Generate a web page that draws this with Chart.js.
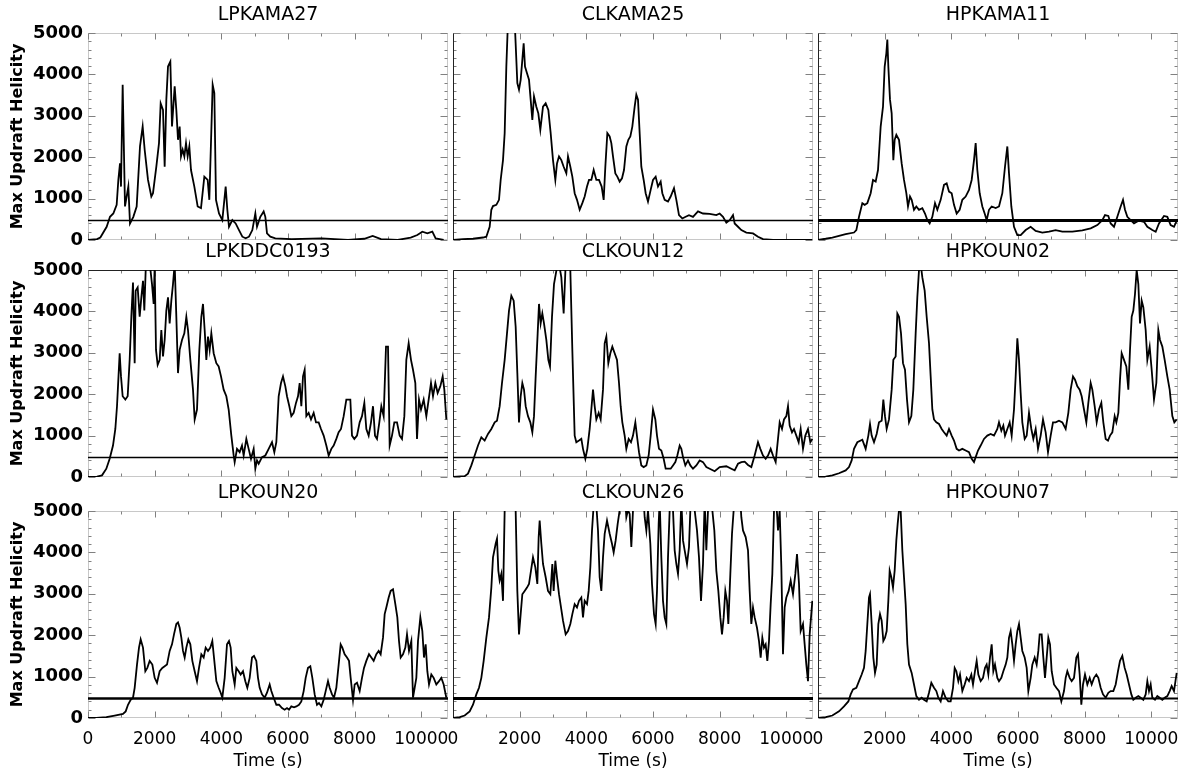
<!DOCTYPE html>
<html>
<head>
<meta charset="utf-8">
<script src="https://cdn.jsdelivr.net/npm/chart.js@4.4.1/dist/chart.umd.min.js"></script>
<style>
  html, body { margin: 0; padding: 0; background: #fff; overflow: hidden; }
  #planche { position: relative; width: 1181px; height: 774px; overflow: hidden; }
  #planche canvas { position: absolute; }
</style>
</head>
<body>
<div id="planche"></div>
<script>
// ==========================================
// DONNÉES (temps en s, hélicité max de l'ascendance)
// ==========================================
const titres = ["LPKAMA27", "CLKAMA25", "HPKAMA11", "LPKDDC0193", "CLKOUN12", "HPKOUN02", "LPKOUN20", "CLKOUN26", "HPKOUN07"];
const seuils = [470, 470, 470, 470, 470, 470, 470, 470, 470];
const ticksX = [0, 2000, 4000, 6000, 8000, 10000];
const ticksY = [0, 1000, 2000, 3000, 4000, 5000];

const lpkama27 = [[0,0],[270,20],[370,60],[560,320],[660,560],[760,640],[860,850],[910,1450],[960,1850],[990,1290],[1040,3750],[1110,810],[1210,1290],[1260,400],[1360,560],[1460,810],[1560,2260],[1640,2740],[1700,2180],[1800,1450],[1900,1050],[1950,1130],[2050,1770],[2130,2340],[2180,3300],[2250,3140],[2300,1770],[2350,3390],[2400,4190],[2470,4310],[2520,2740],[2600,3710],[2650,3140],[2700,2420],[2750,2740],[2790,2020],[2840,2180],[2890,2020],[2940,2340],[2990,2020],[3040,2260],[3090,1690],[3190,1290],[3290,810],[3390,770],[3490,1530],[3590,1450],[3640,970],[3740,3750],[3790,3550],[3840,970],[3930,640],[4030,480],[4130,1290],[4180,730],[4230,320],[4330,480],[4430,400],[4530,240],[4630,80],[4730,40],[4830,80],[4930,240],[5020,640],[5070,320],[5170,560],[5270,690],[5320,560],[5370,160],[5470,80],[5620,40],[6110,20],[7010,40],[7800,0],[8290,30],[8540,100],[8790,20],[9290,0],[9680,60],[9880,120],[10030,200],[10180,160],[10330,200],[10430,40],[10670,0]];

const clkama25 = [[0,0],[300,20],[600,30],[900,60],[1000,80],[1100,320],[1150,730],[1200,820],[1300,850],[1380,970],[1430,1450],[1500,1930],[1550,2580],[1600,4190],[1650,5300],[1850,5300],[1930,3790],[1980,3630],[2030,3870],[2080,4350],[2120,4750],[2160,4190],[2220,4030],[2280,3870],[2330,3390],[2380,2900],[2430,3470],[2500,3220],[2560,3060],[2620,2660],[2700,3220],[2780,3300],[2860,3140],[2930,2580],[3000,1930],[3070,1450],[3120,1850],[3180,2020],[3250,1930],[3320,1770],[3400,1610],[3450,2020],[3520,1770],[3580,1530],[3650,1130],[3720,970],[3800,730],[3880,890],[3950,1050],[4020,1290],[4080,1450],[4150,1450],[4220,1690],[4300,1450],[4380,1450],[4460,1290],[4520,970],[4570,1770],[4630,2580],[4700,2500],[4750,2340],[4800,2020],[4870,1610],[4930,1530],[5000,1410],[5070,1490],[5130,1690],[5200,2260],[5260,2420],[5320,2500],[5380,2740],[5450,3220],[5500,3510],[5550,3390],[5600,2580],[5650,1770],[5720,1450],[5780,1130],[5850,930],[5930,1210],[6000,1450],[6080,1530],[6150,1290],[6230,1410],[6280,1130],[6350,970],[6450,930],[6530,1050],[6630,1250],[6700,970],[6780,600],[6880,520],[6980,560],[7080,600],[7200,560],[7350,690],[7500,640],[7700,630],[7900,600],[8000,640],[8100,560],[8200,420],[8300,480],[8400,600],[8450,400],[8550,320],[8650,240],[8800,180],[9000,160],[9150,80],[9300,20],[9600,0],[10780,0]];

const hpkama11 = [[0,0],[230,30],[430,60],[630,100],[830,140],[1080,180],[1150,240],[1230,560],[1330,890],[1400,850],[1480,890],[1580,1130],[1650,1450],[1730,1410],[1800,1690],[1880,2740],[1950,3220],[2000,4190],[2050,4510],[2080,4840],[2110,4190],[2160,3390],[2210,3060],[2260,1930],[2300,2420],[2350,2540],[2430,2420],[2510,1850],[2580,1450],[2650,1130],[2700,810],[2760,1050],[2810,970],[2880,730],[2950,810],[3030,730],[3130,770],[3210,640],[3280,480],[3350,400],[3430,560],[3510,890],[3580,730],[3680,970],[3780,1330],[3860,1370],[3930,1170],[4010,1130],[4080,850],[4160,640],[4250,730],[4330,970],[4430,1050],[4530,1210],[4610,1450],[4680,1930],[4730,2340],[4780,1690],[4850,1130],[4930,810],[5000,640],[5060,480],[5130,730],[5210,810],[5330,770],[5430,810],[5530,1130],[5610,1770],[5680,2260],[5730,1610],[5800,810],[5880,320],[5980,120],[6080,120],[6230,240],[6380,320],[6530,220],[6730,180],[6930,200],[7130,240],[7330,200],[7630,200],[7930,230],[8180,280],[8380,360],[8530,480],[8610,600],[8710,580],[8780,400],[8880,320],[8980,560],[9080,810],[9150,970],[9210,730],[9280,560],[9380,480],[9480,400],[9630,470],[9780,440],[9880,320],[10030,240],[10130,200],[10230,400],[10380,580],[10480,560],[10580,360],[10680,320],[10770,480]];

const lpkddc0193 = [[0,0],[270,10],[420,40],[550,200],[650,440],[750,760],[820,1160],[870,1710],[920,2510],[950,2990],[990,2430],[1040,1950],[1120,1870],[1190,1950],[1250,2830],[1300,3870],[1350,4700],[1400,2750],[1430,4500],[1490,4580],[1550,3870],[1600,4340],[1650,4740],[1690,4020],[1730,4980],[1770,5300],[1820,5400],[1920,4660],[1970,4180],[2000,5100],[2040,3070],[2090,2710],[2150,2830],[2200,3550],[2250,2910],[2300,3310],[2350,4020],[2400,4340],[2450,3710],[2500,4260],[2550,4660],[2600,5150],[2650,3870],[2700,2510],[2750,3070],[2820,3310],[2890,3470],[2950,3870],[3000,3550],[3070,2830],[3150,2110],[3200,1390],[3270,1630],[3340,3070],[3400,3870],[3450,4180],[3500,3550],[3550,2830],[3600,3390],[3650,3070],[3700,3470],[3770,2990],[3850,2750],[3920,2670],[3990,2430],[4070,2110],[4150,1950],[4220,1630],[4300,1000],[4370,520],[4400,360],[4470,680],[4550,600],[4620,760],[4670,520],[4750,920],[4820,680],[4890,440],[4970,680],[5020,200],[5070,400],[5120,320],[5220,480],[5320,520],[5420,680],[5520,840],[5590,600],[5650,840],[5720,1950],[5790,2270],[5850,2430],[5920,2190],[5970,1950],[6040,1710],[6100,1470],[6170,1550],[6240,1790],[6300,1950],[6350,2270],[6400,1710],[6450,2430],[6500,2590],[6550,1470],[6620,1550],[6690,1390],[6770,1550],[6840,1320],[6920,1320],[6990,1160],[7070,1000],[7150,760],[7220,520],[7300,680],[7370,760],[7450,920],[7520,1080],[7590,1160],[7670,1470],[7750,1870],[7820,1870],[7870,1870],[7920,1000],[7990,920],[8070,1000],[8150,1320],[8220,1470],[8290,1790],[8350,1160],[8420,1000],[8490,1320],[8550,1710],[8610,1000],[8670,920],[8740,1320],[8800,1710],[8870,1470],[8940,3150],[9000,3150],[9050,760],[9120,1000],[9190,1320],[9270,1320],[9350,1000],[9420,920],[9490,1470],[9550,2830],[9620,3230],[9690,2830],[9750,2590],[9820,2270],[9870,920],[9930,1870],[9990,1630],[10070,1870],[10150,1470],[10220,1870],[10290,2270],[10350,1950],[10420,2270],[10490,2030],[10570,2190],[10640,2430],[10690,2110],[10750,1390]];

const clkoun12 = [[0,0],[350,20],[450,80],[550,280],[650,520],[750,760],[850,960],[950,880],[1050,1040],[1150,1160],[1250,1320],[1320,1360],[1400,1710],[1470,2270],[1550,2830],[1620,3470],[1680,4020],[1750,4380],[1820,4260],[1880,3630],[1930,2510],[1980,1320],[2030,1950],[2080,2270],[2130,2110],[2180,1710],[2250,1470],[2320,1320],[2380,1080],[2430,1470],[2480,2430],[2540,3470],[2580,4180],[2630,3710],[2680,3950],[2730,3710],[2800,3310],[2860,2830],[2910,2670],[2970,3870],[3030,4660],[3100,4980],[3150,5300],[3250,4820],[3320,3950],[3380,5150],[3450,5200],[3520,5000],[3580,3070],[3650,1000],[3700,840],[3780,880],[3850,920],[3900,680],[3970,440],[4030,680],[4100,1160],[4150,1630],[4200,2110],[4250,1710],[4300,1390],[4370,1550],[4430,1390],[4500,2110],[4550,3230],[4600,3390],[4660,2750],[4720,2990],[4780,3150],[4850,2990],[4920,2830],[4980,2270],[5030,1710],[5080,1320],[5150,1000],[5200,680],[5270,920],[5340,840],[5400,1000],[5470,1320],[5530,920],[5580,600],[5650,280],[5720,240],[5800,280],[5870,520],[5930,1000],[6000,1630],[6070,1390],[6120,1000],[6180,680],[6250,640],[6320,440],[6380,200],[6450,200],[6530,200],[6600,280],[6670,360],[6730,520],[6800,760],[6850,680],[6900,480],[6970,280],[7050,400],[7120,280],[7200,200],[7300,280],[7400,400],[7500,360],[7600,240],[7700,200],[7850,140],[8000,240],[8200,260],[8350,200],[8450,160],[8550,320],[8650,360],[8750,370],[8850,290],[8950,240],[9050,520],[9150,840],[9220,680],[9300,520],[9380,440],[9450,520],[9530,680],[9600,520],[9680,360],[9750,920],[9800,1320],[9870,1160],[9930,1390],[10000,1470],[10050,1710],[10100,1240],[10170,1080],[10230,1160],[10300,1000],[10370,840],[10430,1160],[10500,680],[10570,1000],[10650,1160],[10720,840],[10780,920]];

const hpkoun02 = [[0,0],[230,10],[430,40],[630,90],[830,160],[930,240],[1010,400],[1080,680],[1180,840],[1330,900],[1430,680],[1510,1000],[1560,1280],[1610,1000],[1680,840],[1760,1040],[1830,1320],[1910,1360],[1960,1870],[2010,1470],[2060,1160],[2130,1390],[2210,2110],[2260,2830],[2330,2910],[2380,3950],[2430,3870],[2490,3470],[2550,2750],[2610,2590],[2670,1870],[2730,1320],[2800,1470],[2860,2110],[2930,3470],[2980,4340],[3030,5000],[3080,5150],[3130,4820],[3200,4500],[3260,3870],[3330,3230],[3380,2430],[3430,1630],[3480,1390],[3550,1320],[3630,1280],[3710,1160],[3780,1080],[3860,1000],[3930,1160],[4010,1000],[4080,880],[4160,680],[4230,640],[4330,680],[4430,640],[4530,600],[4610,440],[4680,360],[4730,480],[4800,640],[4880,760],[4980,920],[5080,1000],[5180,1040],[5280,1000],[5380,1160],[5430,1320],[5500,1120],[5560,1240],[5610,1000],[5680,1160],[5750,1320],[5810,1000],[5880,1630],[5930,2430],[5980,3350],[6030,2830],[6080,2030],[6130,1320],[6200,920],[6260,1000],[6330,1550],[6400,1160],[6460,920],[6530,1160],[6600,680],[6680,1000],[6750,1390],[6830,1080],[6900,600],[6980,1000],[7050,1320],[7130,1320],[7230,1360],[7330,1320],[7430,1160],[7510,1550],[7580,2110],[7650,2430],[7710,2350],[7780,2190],[7850,2110],[7910,1950],[7980,1630],[8050,1320],[8110,1790],[8180,2270],[8230,2110],[8300,1710],[8360,1320],[8430,1630],[8500,1790],[8560,1320],[8630,920],[8700,880],[8760,1000],[8830,1080],[8900,1470],[8950,1320],[9010,1550],[9060,2350],[9110,2990],[9180,2830],[9250,2670],[9310,2110],[9360,3070],[9410,3870],[9460,4020],[9510,4420],[9560,5000],[9610,4660],[9660,3710],[9710,4260],[9760,4100],[9830,3550],[9880,2830],[9950,3150],[10010,2590],[10080,1870],[10150,2270],[10210,3550],[10260,3310],[10330,3150],[10400,2830],[10480,2430],[10550,2110],[10630,1470],[10690,1320],[10760,1390]];

const lpkoun20 = [[0,0],[250,0],[550,20],[800,60],[1050,100],[1130,160],[1200,320],[1280,440],[1350,490],[1400,730],[1470,1290],[1530,1700],[1580,1900],[1650,1700],[1720,1130],[1780,1210],[1850,1380],[1930,1290],[2000,970],[2070,850],[2150,1130],[2230,1210],[2300,1250],[2370,1290],[2450,1620],[2520,1780],[2580,2020],[2650,2270],[2700,2310],[2750,2180],[2800,1940],[2850,1620],[2900,1460],[2950,1700],[3010,1900],[3070,1780],[3130,1380],[3200,1130],[3270,890],[3330,1210],[3400,1540],[3470,1460],[3530,1700],[3600,1620],[3670,1700],[3730,1860],[3780,1460],[3850,890],[3920,730],[3980,610],[4030,490],[4100,970],[4170,1780],[4230,1860],[4280,1700],[4330,1130],[4400,810],[4450,1210],[4520,1130],[4580,1050],[4650,1130],[4720,890],[4780,730],[4850,970],[4920,1460],[4980,1500],[5050,1380],[5100,970],[5150,730],[5220,570],[5300,490],[5370,610],[5450,810],[5500,650],[5570,490],[5650,320],[5730,320],[5820,240],[5900,200],[5970,240],[6030,200],[6100,280],[6180,260],[6250,280],[6330,320],[6400,400],[6470,650],[6530,970],[6600,1210],[6670,1250],[6730,970],[6800,570],[6870,320],[6930,360],[7000,280],[7070,440],[7130,650],[7200,890],[7250,730],[7320,570],[7380,490],[7450,730],[7520,1290],[7580,1780],[7630,1700],[7700,1540],[7770,1460],[7830,1380],[7880,970],[7950,440],[8000,810],[8070,850],[8150,650],[8220,970],[8280,1210],[8350,1380],[8430,1540],[8500,1460],[8570,1380],[8650,1540],[8720,1620],[8780,1540],[8850,1940],[8900,2510],[8950,2670],[9020,2910],[9080,3070],[9150,3110],[9220,2750],[9280,2430],[9330,1860],[9380,1460],[9450,1540],[9520,1700],[9570,2020],[9630,1620],[9700,1860],[9750,490],[9800,730],[9850,970],[9900,1860],[9970,2430],[10030,2100],[10080,1460],[10130,1780],[10180,1130],[10230,810],[10300,1050],[10370,970],[10450,810],[10530,890],[10600,970],[10670,810],[10750,490]];

const clkoun26 = [[0,0],[200,20],[350,60],[500,160],[600,320],[700,570],[780,730],[850,970],[920,1380],[1000,1940],[1080,2430],[1150,3150],[1200,3880],[1280,4210],[1320,4330],[1360,3560],[1400,3320],[1450,3480],[1500,2830],[1550,5020],[1580,5500],[1850,5500],[1880,5000],[1930,3070],[1980,2020],[2030,2510],[2080,2990],[2150,3070],[2220,3150],[2280,3240],[2340,3560],[2400,3880],[2470,3640],[2530,3240],[2570,4370],[2600,4770],[2650,4210],[2700,3720],[2780,3400],[2850,3070],[2920,2990],[2980,3720],[3020,3070],[3070,3800],[3120,3400],[3180,2990],[3240,2670],[3300,2350],[3380,2020],[3450,2100],[3520,2270],[3580,2510],[3650,2750],[3720,2670],[3780,2830],[3850,2910],[3900,2430],[3950,2830],[4020,2750],[4070,3070],[4120,3640],[4170,4530],[4210,5020],[4270,5500],[4350,4530],[4400,3400],[4450,3070],[4500,3880],[4550,4450],[4620,4770],[4700,4450],[4770,4210],[4820,4000],[4880,4290],[4940,4690],[5000,5020],[5050,5500],[5150,5500],[5200,4850],[5250,5020],[5300,4930],[5350,4130],[5400,5020],[5500,5500],[5700,5500],[5750,4850],[5800,4530],[5850,5020],[5920,4210],[5970,3240],[6030,2510],[6080,2270],[6120,3070],[6170,4690],[6200,5260],[6250,3880],[6300,2830],[6350,2430],[6400,2270],[6450,3880],[6500,5020],[6550,5500],[6600,5020],[6650,4050],[6700,3720],[6750,3480],[6800,4050],[6850,5260],[6900,4290],[6950,4050],[7020,3720],[7080,4130],[7120,5020],[7180,5500],[7250,5020],[7320,4530],[7380,3880],[7440,2830],[7500,3720],[7550,5260],[7600,4050],[7650,5020],[7700,5500],[7780,5020],[7840,4530],[7900,3560],[7960,3070],[8020,2430],[8070,2020],[8120,2430],[8170,3070],[8220,2830],[8260,2270],[8320,3480],[8370,4450],[8420,5020],[8470,5500],[8600,5500],[8650,4850],[8700,4530],[8780,4370],[8850,4050],[8900,3070],[8950,2270],[9000,2670],[9050,2430],[9120,2180],[9180,1860],[9230,1460],[9280,1940],[9330,1700],[9380,1780],[9430,1380],[9480,1860],[9530,2750],[9580,3480],[9630,5020],[9680,5500],[9750,4530],[9800,5020],[9850,3640],[9900,1540],[9950,2670],[10000,2910],[10070,3070],[10130,3320],[10200,2990],[10270,3480],[10320,3960],[10380,3240],[10430,2100],[10500,2270],[10550,1780],[10600,1290],[10650,890],[10700,2020],[10780,2830]];

const hpkoun07 = [[0,0],[230,20],[430,60],[630,160],[780,280],[910,400],[980,570],[1050,690],[1150,730],[1230,890],[1310,1050],[1380,1210],[1430,1620],[1480,2270],[1530,2910],[1560,2990],[1610,2270],[1660,1460],[1710,1090],[1760,1290],[1810,2270],[1860,2510],[1910,2350],[1960,1860],[2010,1940],[2060,2100],[2110,2830],[2150,3560],[2200,3400],[2250,3150],[2300,3560],[2350,4290],[2390,4690],[2430,5020],[2480,5020],[2530,4050],[2580,3400],[2630,2750],[2680,1780],[2730,1290],[2810,1090],[2880,810],[2950,530],[3030,440],[3110,490],[3180,440],[3260,400],[3330,610],[3400,850],[3480,730],[3550,650],[3610,490],[3680,400],[3750,650],[3830,490],[3910,400],[3980,400],[4050,730],[4100,1210],[4150,1130],[4210,890],[4260,1050],[4330,650],[4400,810],[4460,970],[4530,890],[4600,1050],[4650,810],[4710,1130],[4760,1380],[4810,1050],[4880,890],[4950,970],[5010,1210],[5060,1290],[5110,1050],[5160,1460],[5210,1780],[5260,1130],[5310,1290],[5380,970],[5430,890],[5500,970],[5560,1130],[5630,1290],[5680,1460],[5730,1940],[5780,2100],[5830,1780],[5880,1380],[5930,1780],[5980,2100],[6030,2270],[6080,1940],[6130,1620],[6200,1460],[6260,1210],[6310,650],[6380,970],[6430,1290],[6500,1460],[6560,1290],[6610,1620],[6650,2020],[6710,2020],[6760,1460],[6810,970],[6860,1460],[6910,1940],[6960,1780],[7010,1130],[7080,810],[7150,730],[7230,650],[7300,400],[7380,650],[7430,970],[7480,1130],[7550,970],[7610,890],[7680,970],[7750,1460],[7800,1540],[7850,1050],[7900,320],[7950,810],[8010,1050],[8080,810],[8150,970],[8210,810],[8280,970],[8350,1050],[8410,970],[8480,730],[8550,570],[8630,490],[8710,610],[8780,650],[8860,650],[8930,810],[9000,1130],[9060,1380],[9130,1500],[9200,1210],[9260,1050],[9330,810],[9400,570],[9460,440],[9530,490],[9610,530],[9680,490],[9760,440],[9830,570],[9880,890],[9930,650],[9980,810],[10030,490],[10110,440],[10180,530],[10250,490],[10330,440],[10400,490],[10480,530],[10550,650],[10610,770],[10680,650],[10760,1090]];

const series = [lpkama27, clkama25, hpkama11, lpkddc0193, clkoun12, hpkoun02, lpkoun20, clkoun26, hpkoun07];
const epaisseurSeuil = [1.5, 1.5, 3, 1.5, 1.5, 1.5, 2.5, 3, 2];

// ==========================================
// MISE EN PAGE
// ==========================================
const T_MAX = 10800;
const colonnesX = [88, 453, 818];   // bord gauche de chaque zone de tracé
const lignesY = [33, 270, 511];     // bord haut
const LARGEUR = 360, HAUTEUR = 207;
const MARGE_G = 24, MARGE_D = 40, MARGE_B = 16;  // marges larges : les étiquettes ne poussent pas la zone de tracé
const POLICE = "'DejaVu Sans', 'Liberation Sans', sans-serif";

// cadre gris + petites graduations vers l'intérieur, façon IDL
const cadre = {
    id: "cadre",
    beforeDatasetsDraw(chart, args, opts) {
        const { ctx, chartArea: a, scales: { x, y } } = chart;
        const g = Math.round(a.left) + 0.5, d = Math.round(a.right) - 0.5;
        const h = Math.round(a.top) + 0.5, b = Math.round(a.bottom) - 0.5;
        ctx.save();
        ctx.lineWidth = 1;
        ctx.strokeStyle = "#c8c8c8";
        ctx.strokeRect(g, h, d - g, b - h);

        ctx.strokeStyle = "#808080";
        ctx.beginPath();
        for (let v = 0; v <= 5000; v += 200) {
            const py = Math.round(y.getPixelForValue(v)) + 0.5;
            const l = v % 1000 === 0 ? 7 : 3;
            ctx.moveTo(g, py); ctx.lineTo(g + l, py);
            ctx.moveTo(d, py); ctx.lineTo(d - l, py);
        }
        for (let t = 0; t <= T_MAX; t += 1000) {
            const px = Math.round(x.getPixelForValue(t)) + 0.5;
            const l = t % 2000 === 0 ? 6 : 3;
            ctx.moveTo(px, h); ctx.lineTo(px, h + l);
            ctx.moveTo(px, b); ctx.lineTo(px, b - l);
        }
        ctx.stroke();

        ctx.strokeStyle = "#222";
        ctx.beginPath();
        if (opts.gaucheSombre) { ctx.moveTo(g, h); ctx.lineTo(g, b); }
        if (opts.hautSombre) { ctx.moveTo(g, h); ctx.lineTo(d, h); }
        ctx.stroke();
        ctx.restore();
    }
};

function creerPanneau(idx) {
    const col = idx % 3, ligne = Math.floor(idx / 3);
    const gauche = col === 0, bas = ligne === 2;
    const canvasX = gauche ? 0 : colonnesX[col] - MARGE_G;
    const canvasY = lignesY[ligne] - 33;
    const largeur = (colonnesX[col] - canvasX) + LARGEUR + MARGE_D;
    const hauteur = 33 + HAUTEUR + (bas ? 56 : MARGE_B);

    const canvas = document.createElement("canvas");
    canvas.width = largeur;
    canvas.height = hauteur;
    canvas.style.left = canvasX + "px";
    canvas.style.top = canvasY + "px";
    canvas.style.width = largeur + "px";
    canvas.style.height = hauteur + "px";
    document.getElementById("planche").appendChild(canvas);

    new Chart(canvas.getContext("2d"), {
        type: "scatter",
        data: {
            datasets: [{
                data: series[idx].map(([t, v]) => ({ x: t, y: v })),
                showLine: true,
                borderColor: "#000",
                borderWidth: 1.8,
                pointRadius: 0,
                tension: 0
            }, {
                data: [{ x: 0, y: seuils[idx] }, { x: T_MAX, y: seuils[idx] }],
                showLine: true,
                borderColor: "#000",
                borderWidth: epaisseurSeuil[idx],
                pointRadius: 0
            }]
        },
        options: {
            responsive: false,
            devicePixelRatio: 1,
            animation: false,
            events: [],
            layout: { padding: { left: gauche ? 0 : MARGE_G, right: MARGE_D, top: 0, bottom: bas ? 0 : MARGE_B } },
            plugins: {
                legend: { display: false },
                tooltip: { enabled: false },
                title: {
                    display: true,
                    text: titres[idx],
                    fullSize: false,
                    color: "#000",
                    font: { family: POLICE, size: 19, weight: "normal", lineHeight: 1 },
                    padding: { top: 6, bottom: 8 }
                },
                cadre: { gaucheSombre: !gauche, hautSombre: ligne === 1 }
            },
            scales: {
                x: {
                    type: "linear",
                    min: 0,
                    max: T_MAX,
                    display: bas,
                    afterBuildTicks: s => { s.ticks = ticksX.map(v => ({ value: v })); },
                    afterFit: s => { s.height = bas ? 56 : 0; },
                    grid: { display: false, drawTicks: false },
                    border: { display: false },
                    ticks: {
                        color: "#000",
                        padding: 11,
                        autoSkip: false,
                        maxRotation: 0,
                        font: { family: POLICE, size: 17 },
                        callback: v => String(v)
                    },
                    title: {
                        display: true,
                        text: "Time (s)",
                        color: "#000",
                        font: { family: POLICE, size: 17 },
                        padding: { top: 0, bottom: 2 }
                    }
                },
                y: {
                    type: "linear",
                    min: 0,
                    max: 5000,
                    display: gauche,
                    afterBuildTicks: s => { s.ticks = ticksY.map(v => ({ value: v })); },
                    afterFit: s => { s.width = gauche ? 88 : 0; },
                    grid: { display: false, drawTicks: false },
                    border: { display: false },
                    ticks: {
                        color: "#000",
                        padding: 5,
                        autoSkip: false,
                        font: { family: POLICE, size: 18, weight: "bold" },
                        callback: v => String(v)
                    },
                    title: {
                        display: true,
                        text: "Max Updraft Helicity",
                        color: "#000",
                        font: { family: POLICE, size: 16, weight: "bold" },
                        padding: { top: 8, bottom: 0 }
                    }
                }
            }
        },
        plugins: [cadre]
    });
}

for (let i = 0; i < 9; i++) creerPanneau(i);
</script>
</body>
</html>
